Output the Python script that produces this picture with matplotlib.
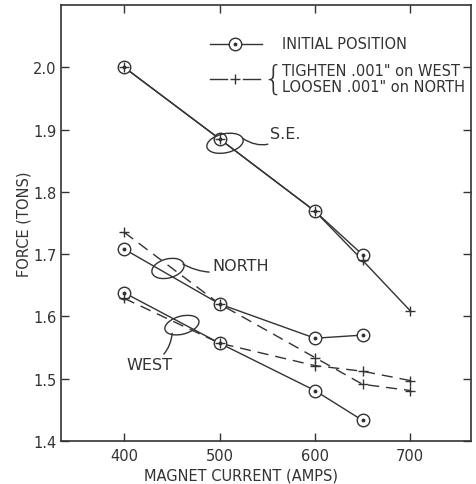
import matplotlib
matplotlib.use("Agg")
import matplotlib.pyplot as plt
from matplotlib.lines import Line2D
from matplotlib.patches import Ellipse
from matplotlib import transforms

# Magnet current (amps) for each series
current_initial = [400, 500, 600, 650]
current_adjusted = [400, 500, 600, 650, 700]

# Force (tons), initial position
se_initial = [2.000, 1.885, 1.769, 1.699]
north_initial = [1.708, 1.620, 1.565, 1.570]
west_initial = [1.638, 1.557, 1.481, 1.433]

# Force (tons), tighten .001" on WEST / loosen .001" on NORTH
se_adjusted = [2.000, 1.885, 1.769, 1.690, 1.609]
north_adjusted = [1.735, 1.620, 1.534, 1.491, 1.481]
west_adjusted = [1.629, 1.557, 1.521, 1.512, 1.497]

x_ticks = [400, 500, 600, 700]
y_ticks = [1.4, 1.5, 1.6, 1.7, 1.8, 1.9, 2.0]

INK = "#333333"
DASH = (0, (8, 5))

plt.rcParams["font.family"] = ["DejaVu Sans"]
plt.rcParams["text.color"] = INK

fig = plt.figure(figsize=(4.76, 4.85), dpi=100)
ax = fig.add_axes([0.128, 0.0887, 0.8615, 0.8989])


def draw_initial(xs, ys):
    ax.plot(xs, ys, color=INK, lw=1.0, ls="-", zorder=2)
    ax.plot(xs, ys, ls="none", marker="o", ms=9, mfc="white", mec=INK, mew=1.0, zorder=3)
    ax.plot(xs, ys, ls="none", marker="o", ms=1.8, mfc=INK, mec=INK, zorder=4)


def draw_adjusted(xs, ys, style):
    ax.plot(xs, ys, color=INK, lw=1.0, ls=style, zorder=2)
    ax.plot(xs, ys, ls="none", marker="+", ms=6.5, mec=INK, mew=1.0, zorder=4)


draw_adjusted(current_adjusted, se_adjusted, "-")
draw_adjusted(current_adjusted, north_adjusted, DASH)
draw_adjusted(current_adjusted, west_adjusted, DASH)
draw_initial(current_initial, se_initial)
draw_initial(current_initial, north_initial)
draw_initial(current_initial, west_initial)

ax.set_xlim(333.6, 763.7)
ax.set_ylim(1.4, 2.10)
ax.set_xticks(x_ticks)
ax.set_yticks(y_ticks)
ax.set_xticklabels([str(v) for v in x_ticks])
ax.set_yticklabels([f"{v:.1f}" for v in y_ticks])
ax.tick_params(axis="both", direction="in", length=6, width=1.0, color=INK,
               labelcolor=INK, labelsize=10.5, top=True, right=True)
ax.tick_params(axis="x", pad=5)
ax.tick_params(axis="y", pad=3)
for sp in ax.spines.values():
    sp.set_color(INK)
    sp.set_linewidth(1.2)

ax.set_xlabel("MAGNET CURRENT (AMPS)", fontsize=10.5, color=INK)
ax.xaxis.set_label_coords(0.44, -0.060)
ax.set_ylabel("FORCE (TONS)", fontsize=10.5, color=INK)
ax.yaxis.set_label_coords(-0.071, 0.5)


# group ellipses, sized in inches, centred on a data point
def group_ellipse(cx, cy, w, h, angle):
    tr = fig.dpi_scale_trans + transforms.ScaledTranslation(cx, cy, ax.transData)
    ax.add_patch(Ellipse((0, 0), w, h, angle=angle, fill=False, ec=INK, lw=1.0,
                         transform=tr, zorder=5))


group_ellipse(505.7, 1.878, 0.37, 0.19, 12)
group_ellipse(445.9, 1.677, 0.33, 0.19, 15)
group_ellipse(460.5, 1.586, 0.35, 0.18, 15)

arrow = dict(arrowstyle="-", color=INK, lw=1.0, shrinkA=0, shrinkB=0)
ax.annotate("S.E.", xy=(524, 1.886), xytext=(553, 1.893), fontsize=11.5,
            ha="left", va="center",
            arrowprops=dict(arrow, connectionstyle="arc3,rad=-0.4"))
ax.annotate("NORTH", xy=(461.6, 1.684), xytext=(492, 1.681), fontsize=11.5,
            ha="left", va="center",
            arrowprops=dict(arrow, connectionstyle="arc3,rad=-0.25"))
ax.annotate("WEST", xy=(450.3, 1.573), xytext=(426, 1.523), fontsize=11.5,
            ha="center", va="center",
            arrowprops=dict(arrow, connectionstyle="arc3,rad=0.3"))

# legend, drawn by hand
ax.add_line(Line2D([0.363, 0.490], [0.911, 0.911], color=INK, lw=1.0,
                   transform=ax.transAxes))
ax.plot([0.424], [0.911], marker="o", ms=9, mfc="white", mec=INK, mew=1.0,
        transform=ax.transAxes)
ax.plot([0.424], [0.911], marker="o", ms=1.8, mfc=INK, mec=INK,
        transform=ax.transAxes)
ax.text(0.539, 0.911, "INITIAL POSITION", transform=ax.transAxes, fontsize=10.5,
        ha="left", va="center")

ax.add_line(Line2D([0.363, 0.405], [0.831, 0.831], color=INK, lw=1.0,
                   transform=ax.transAxes))
ax.add_line(Line2D([0.443, 0.485], [0.831, 0.831], color=INK, lw=1.0,
                   transform=ax.transAxes))
ax.plot([0.424], [0.831], marker="+", ms=6.5, mec=INK, mew=1.0,
        transform=ax.transAxes)
ax.text(0.518, 0.829, "{", transform=ax.transAxes, fontsize=24,
        fontweight="light", ha="center", va="center")
ax.text(0.539, 0.849, 'TIGHTEN .001" on WEST', transform=ax.transAxes,
        fontsize=10.5, ha="left", va="center")
ax.text(0.539, 0.813, 'LOOSEN .001" on NORTH', transform=ax.transAxes,
        fontsize=10.5, ha="left", va="center")

fig.savefig("out.png", dpi=100, facecolor="white")
